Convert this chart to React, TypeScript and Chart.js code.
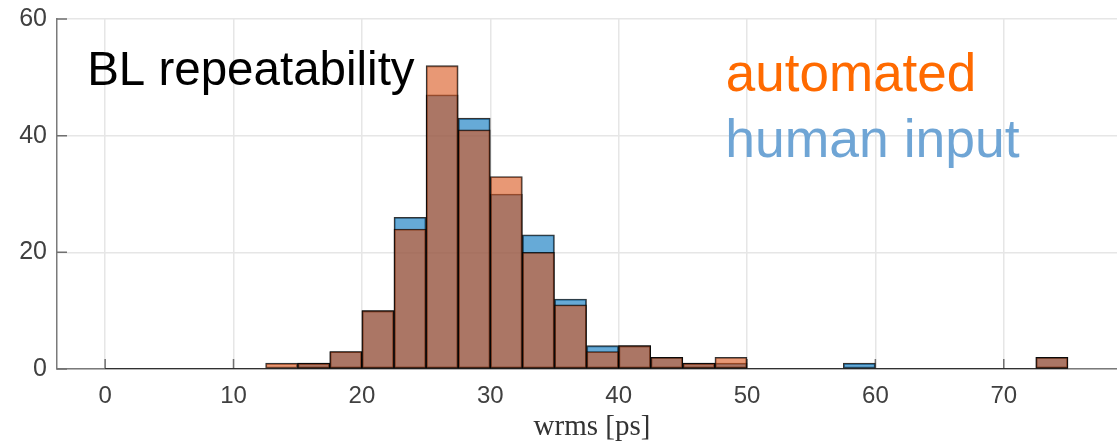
import { useEffect, useRef } from "react";
import { Chart, registerables } from "chart.js";

Chart.register(...registerables);

// Histogram bins (lower edges, ps) and bin width
const BIN_WIDTH = 2.5;
const binStarts = [
  0, 2.5, 5, 7.5, 10, 12.5, 15, 17.5, 20, 22.5,
  25, 27.5, 30, 32.5, 35, 37.5, 40, 42.5, 45, 47.5,
  50, 52.5, 55, 57.5, 60, 62.5, 65, 67.5, 70, 72.5,
];

// Counts per bin
const automatedCounts = [
  0, 0, 0, 0, 0, 1, 1, 3, 10, 24,
  52, 41, 33, 20, 11, 3, 4, 2, 1, 2,
  0, 0, 0, 0, 0, 0, 0, 0, 0, 2,
];
const humanCounts = [
  0, 0, 0, 0, 0, 0, 1, 3, 10, 26,
  47, 43, 30, 23, 12, 4, 4, 2, 1, 1,
  0, 0, 0, 1, 0, 0, 0, 0, 0, 2,
];

// Axis ticks
const xTicks = [0, 10, 20, 30, 40, 50, 60, 70];
const yTicks = [0, 20, 40, 60];

// Text annotations, placed in data coordinates (left edge, baseline)
const annotations = [
  { text: "BL repeatability", x: -1.4, y: 48.7, color: "#000000", size: 47.5 },
  { text: "automated", x: 48.35, y: 47.65, color: "#FF6A00", size: 53 },
  { text: "human input", x: 48.3, y: 36.35, color: "#6FA5D5", size: 53.5 },
];

const SANS = '"Liberation Sans", Arial, Helvetica, sans-serif';

const toPoints = (counts: number[]) =>
  counts.map((c, i) => ({ x: binStarts[i] + BIN_WIDTH / 2, y: c }));

const inwardTicks = {
  id: "inwardTicks",
  beforeDatasetsDraw(chart: any) {
    const { ctx, chartArea, scales } = chart;
    ctx.save();
    ctx.strokeStyle = "#707070";
    ctx.lineWidth = 1.5;
    ctx.beginPath();
    for (const v of xTicks) {
      const px = scales.x.getPixelForValue(v);
      ctx.moveTo(px, chartArea.bottom);
      ctx.lineTo(px, chartArea.bottom - 10);
    }
    for (const v of yTicks) {
      const py = scales.y.getPixelForValue(v);
      ctx.moveTo(chartArea.left, py);
      ctx.lineTo(chartArea.left + 10, py);
    }
    ctx.stroke();
    ctx.restore();
  },
};

const textLabels = {
  id: "textLabels",
  afterDatasetsDraw(chart: any) {
    const { ctx, scales } = chart;
    ctx.save();
    ctx.textAlign = "left";
    ctx.textBaseline = "alphabetic";
    for (const a of annotations) {
      ctx.font = `${a.size}px ${SANS}`;
      ctx.fillStyle = a.color;
      ctx.fillText(a.text, scales.x.getPixelForValue(a.x), scales.y.getPixelForValue(a.y));
    }
    ctx.restore();
  },
};

export default function App() {
  const canvasRef = useRef<HTMLCanvasElement | null>(null);

  useEffect(() => {
    const canvas = canvasRef.current;
    if (!canvas) return;
    const edgeColor = "rgba(0,0,0,0.8)";
    const chart = new Chart(canvas, {
      type: "bar",
      data: {
        datasets: [
          {
            type: "line",
            label: "bin edges",
            data: [
              { x: binStarts[0], y: 0 },
              { x: binStarts[binStarts.length - 1] + BIN_WIDTH, y: 0 },
            ],
            borderColor: "rgba(0,0,0,0.8)",
            borderWidth: 1.5,
            pointRadius: 0,
            order: -1,
          } as any,
          {
            label: "automated",
            data: toPoints(automatedCounts),
            backgroundColor: "rgba(217,83,25,0.6)",
            borderColor: edgeColor,
            borderWidth: 1.2,
            borderSkipped: false,
            grouped: false,
            barPercentage: 1,
            categoryPercentage: 1,
            order: 0,
          } as any,
          {
            label: "human input",
            data: toPoints(humanCounts),
            backgroundColor: "rgba(0,114,189,0.6)",
            borderColor: edgeColor,
            borderWidth: 1.2,
            borderSkipped: false,
            grouped: false,
            barPercentage: 1,
            categoryPercentage: 1,
            order: 1,
          } as any,
        ],
      },
      options: {
        animation: false,
        responsive: false,
        devicePixelRatio: 1,
        layout: { padding: { top: 19, right: 3, left: 0, bottom: 0 } },
        plugins: {
          legend: { display: false },
          tooltip: { enabled: false },
        },
        scales: {
          x: {
            type: "linear",
            min: -3.75,
            max: 79.6,
            offset: false,
            afterBuildTicks: (scale: any) => {
              scale.ticks = xTicks.map((v) => ({ value: v }));
            },
            afterFit: (scale: any) => {
              scale.height = 77;
              scale.paddingLeft = 0;
              scale.paddingRight = 0;
            },
            ticks: {
              padding: 13,
              color: "#404040",
              font: { family: SANS, size: 24 },
            },
            grid: {
              offset: false,
              drawTicks: false,
              color: "#E6E6E6",
              lineWidth: 1.5,
            },
            border: { color: "#7a7a7a", width: 1.5 },
            title: {
              display: true,
              text: "wrms [ps]",
              color: "#333333",
              font: { family: '"Liberation Serif", "Times New Roman", serif', size: 29, lineHeight: 1.2 },
              padding: { top: 0, bottom: 1 },
            },
          },
          y: {
            min: 0,
            max: 60,
            afterBuildTicks: (scale: any) => {
              scale.ticks = yTicks.map((v) => ({ value: v }));
            },
            afterFit: (scale: any) => {
              scale.width = 57;
              scale.paddingTop = 0;
              scale.paddingBottom = 0;
            },
            ticks: {
              padding: 10,
              color: "#404040",
              font: { family: SANS, size: 25 },
            },
            grid: {
              drawTicks: false,
              color: "#E6E6E6",
              lineWidth: 1.5,
            },
            border: { color: "#7a7a7a", width: 1.5 },
          },
        },
      },
      plugins: [inwardTicks, textLabels],
    } as any);
    return () => chart.destroy();
  }, []);

  return (
    <div
      style={{
        position: "fixed",
        left: 0,
        top: 0,
        width: 1117,
        height: 446,
        overflow: "hidden",
        background: "#ffffff",
      }}
    >
      <canvas ref={canvasRef} width={1130} height={446} style={{ display: "block" }} />
    </div>
  );
}
